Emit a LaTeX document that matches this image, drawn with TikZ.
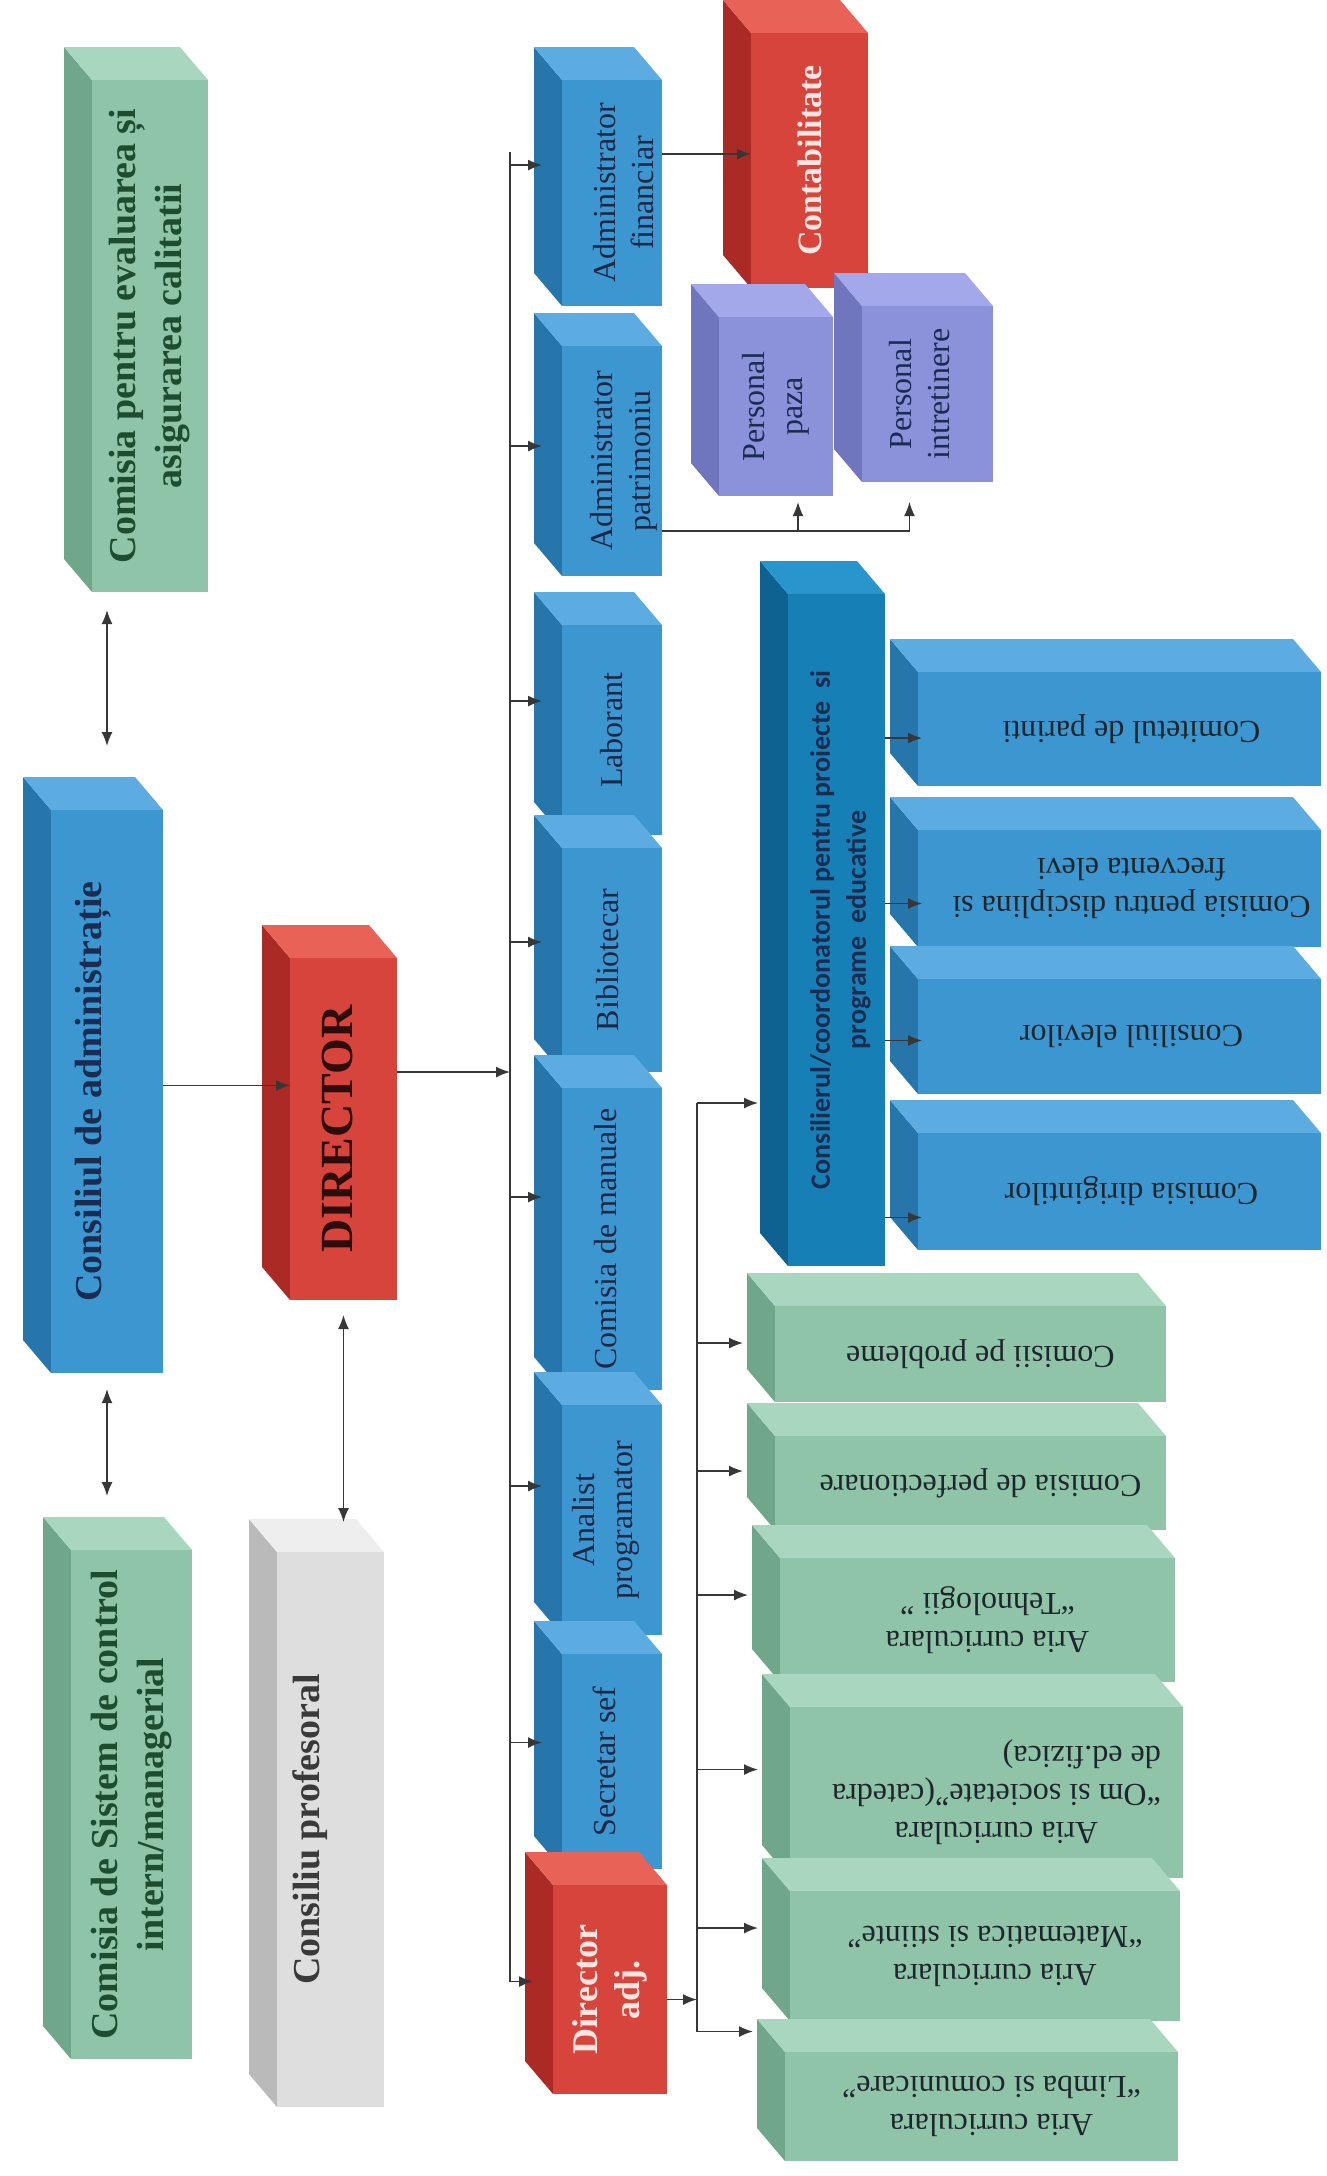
\documentclass[tikz,border=0pt]{standalone}
\usepackage{fontspec}
\setmainfont{Liberation Serif}
\newfontfamily\calib{Carlito}
\usetikzlibrary{arrows.meta,calc}
\definecolor{greenF}{RGB}{143,196,168}
\definecolor{greenT}{RGB}{168,214,190}
\definecolor{greenS}{RGB}{112,166,138}
\definecolor{blueF}{RGB}{60,150,208}
\definecolor{blueT}{RGB}{92,172,226}
\definecolor{blueS}{RGB}{38,118,172}
\definecolor{redF}{RGB}{215,68,60}
\definecolor{redT}{RGB}{232,98,88}
\definecolor{redS}{RGB}{172,42,38}
\definecolor{tealF}{RGB}{22,128,182}
\definecolor{tealT}{RGB}{40,150,204}
\definecolor{tealS}{RGB}{14,98,146}
\definecolor{purpF}{RGB}{140,146,218}
\definecolor{purpT}{RGB}{162,168,234}
\definecolor{purpS}{RGB}{112,118,190}
\definecolor{grayF}{RGB}{222,222,222}
\definecolor{grayT}{RGB}{238,238,238}
\definecolor{grayS}{RGB}{186,186,186}
\definecolor{lineGray}{RGB}{55,55,55}
\definecolor{dkGreen}{RGB}{30,76,46}
\definecolor{dkNavy}{RGB}{26,44,82}
\definecolor{dkRed}{RGB}{45,12,12}
\definecolor{dkGray}{RGB}{58,58,58}
\definecolor{colTxt}{RGB}{28,40,70}
\definecolor{pinkW}{RGB}{252,228,224}
\definecolor{bodyTxt}{RGB}{30,38,45}
% #1 name, #2 x1, #3 y1, #4 x2, #5 y2, #6 colour prefix, #7 text style, #8 text shift, #9 text
\newcommand\drawcube[9]{%
  \fill[#6S] (#2-28,#3-33) -- (#2,#3) -- (#2,#5) -- (#2-28,#5-33) -- cycle;
  \fill[#6T] (#2-28,#3-33) -- (#4-28,#3-33) -- (#4,#3) -- (#2,#3) -- cycle;
  \node[frontface,fill=#6F,minimum width={(#4-#2)*0.5pt},minimum height={(#5-#3)*0.5pt}] (#1) at ({(#2+#4)/2},{(#3+#5)/2}) {};
  \node[#7] (#1-t) at ([#8]#1.center) {#9};
}
\tikzset{
  frontface/.style={inner sep=0pt,outer sep=0pt,draw=none,rectangle},
  lineC/.style={draw=lineGray,line width=0.8pt},
  arr/.style={lineC,-{Latex[length=7pt,width=5.5pt]}},
  dbl/.style={lineC,{Latex[length=7pt,width=5.5pt]}-{Latex[length=7pt,width=5.5pt]}},
  bigtxt/.style={rotate=90,align=center,inner sep=0pt,font=\bfseries\fontsize{19}{23}\selectfont},
  coltxt/.style={rotate=90,align=center,inner sep=0pt,text=colTxt,font=\fontsize{16}{19}\selectfont},
  fliptxt/.style={rotate=180,align=center,inner sep=0pt,text=bodyTxt,font=\fontsize{16}{19}\selectfont},
}
\begin{document}
\begin{tikzpicture}[x=0.5pt,y=-0.5pt]
\useasboundingbox (0,0) rectangle (1327,2176);
\fill[white] (0,0) rectangle (1327,2176);
% left column
\drawcube{eval}{92}{80}{208}{592}{green}{bigtxt,text=dkGreen}{xshift=0pt}{Comisia pentru evaluarea și\\asigurarea calitatii}
\drawcube{admin}{51}{810}{163}{1373}{blue}{bigtxt,text=dkNavy}{xshift=-7pt}{Consiliul de administrație}
\drawcube{sistem}{71}{1550}{192}{2059}{green}{bigtxt,text=dkGreen}{xshift=0pt}{Comisia de Sistem de control\\intern/managerial}
\drawcube{dir}{290}{958}{397}{1300}{red}{rotate=90,inner sep=0pt,text=dkRed,font=\bfseries\fontsize{23}{26}\selectfont}{xshift=-3pt}{DIRECTOR}
\drawcube{prof}{277}{1552}{384}{2107}{gray}{bigtxt,text=dkGray}{xshift=-10pt}{Consiliu profesoral}
% blue column
\drawcube{adf}{562}{80}{662}{306}{blue}{coltxt}{xshift=6pt}{Administrator\\financiar}
\drawcube{adp}{562}{346}{662}{576}{blue}{coltxt}{xshift=6pt}{Administrator\\patrimoniu}
\drawcube{lab}{562}{625}{662}{835}{blue}{coltxt}{xshift=0pt}{Laborant}
\drawcube{bib}{562}{848}{662}{1072}{blue}{coltxt}{xshift=-2pt}{Bibliotecar}
\drawcube{man}{562}{1088}{662}{1390}{blue}{coltxt}{xshift=-3pt}{Comisia de manuale}
\drawcube{ana}{562}{1405}{662}{1635}{blue}{coltxt}{xshift=-3pt}{Analist\\programator}
\drawcube{sec}{562}{1654}{662}{1869}{blue}{coltxt}{xshift=-4pt}{Secretar sef}
\drawcube{dad}{553}{1885}{667}{2094}{red}{rotate=90,align=center,inner sep=0pt,text=pinkW,font=\bfseries\fontsize{18}{21}\selectfont}{xshift=0pt}{Director\\adj.}
% administrative staff
\drawcube{contab}{751}{33}{868}{288}{red}{rotate=90,inner sep=0pt,text=pinkW,font=\bfseries\fontsize{17}{20}\selectfont}{xshift=0pt}{Contabilitate}
\drawcube{paza}{719}{317}{833}{496}{purp}{coltxt,text=dkNavy}{xshift=0pt}{Personal\\paza}
\drawcube{intre}{862}{306}{993}{482}{purp}{coltxt,text=dkNavy}{xshift=-4pt}{Personal\\intretinere}
% consilier
\drawcube{consil}{788}{594}{885}{1266}{teal}{rotate=90,align=center,inner sep=0pt,text=dkNavy,font=\calib\bfseries\fontsize{14}{18}\selectfont}{xshift=2pt}{Consilierul/coordonatorul pentru proiecte~~si\\programe~~educative}
% right blue boxes
\drawcube{com}{918}{672}{1321}{786}{blue}{fliptxt}{xshift=6pt}{Comitetul de parinti}
\drawcube{dis}{918}{830}{1321}{947}{blue}{fliptxt}{xshift=6pt}{Comisia pentru disciplina si\\frecventa elevi}
\drawcube{ele}{918}{979}{1321}{1094}{blue}{fliptxt}{xshift=6pt}{Consiliul elevilor}
\drawcube{dirig}{918}{1133}{1321}{1250}{blue}{fliptxt}{xshift=6pt}{Comisia dirigintilor}
% green bottom boxes
\drawcube{prob}{775}{1306}{1166}{1402}{green}{fliptxt}{xshift=5pt}{Comisii pe probleme}
\drawcube{perf}{775}{1436}{1166}{1530}{green}{fliptxt}{xshift=5pt}{Comisia de perfectionare}
\drawcube{teh}{780}{1558}{1175}{1682}{green}{fliptxt}{xshift=5pt}{Aria curriculara\\“Tehnologii ”}
\drawcube{om}{790}{1707}{1183}{1878}{green}{fliptxt}{xshift=5pt}{\begin{tabular}{@{}l@{}}\multicolumn{1}{@{}c@{}}{Aria curriculara}\\“Om si societate”(catedra\\de ed.fizica)\end{tabular}}
\drawcube{mat}{790}{1891}{1180}{2021}{green}{fliptxt}{xshift=5pt}{Aria curriculara\\“Matematica si stiinte”}
\drawcube{lim}{785}{2052}{1178}{2161}{green}{fliptxt}{xshift=5pt}{Aria curriculara\\“Limba si comunicare”}
% ---------- connectors ----------
% double arrows on the left
\coordinate (e1) at ([yshift=-9pt]eval.south);
\coordinate (e2) at ([yshift=32pt]admin.north);
\draw[dbl] (e1 -| e2) -- (e2);
\coordinate (s1) at ([yshift=-8pt]admin.south);
\coordinate (s2) at ([yshift=27pt]sistem.north);
\draw[dbl] (s1) -- (s1 |- s2);
\coordinate (q1) at ([yshift=-7.5pt]dir.south);
\coordinate (q2) at ([yshift=15pt]prof.north);
\draw[dbl] (q1) -- (q1 |- q2);
% Consiliul -> DIRECTOR
\coordinate (a2d) at ([yshift=3pt]admin.east);
\draw[arr] (a2d) -- (a2d -| dir.west);
% main bus
\coordinate (busT) at (510,152);
\foreach \n/\s in {adf/14,adp/7.5,lab/14.5,bib/9,man/21,ana/17,sec/9.5,dad/4}{
  \coordinate (\n-in) at ([xshift=-10pt,yshift=\s pt]\n.west);
  \draw[arr] (busT |- \n-in) -- (\n-in);
}
\draw[lineC] (busT) -- (busT |- dad-in);
\coordinate (djoin) at ([yshift=28.5pt]dir.east);
\draw[arr] (djoin) -- (djoin -| busT);
% financiar -> contabilitate
\coordinate (f2c) at ([yshift=19.5pt]adf.east);
\draw[arr] (f2c) -- (f2c -| contab.west);
% patrimoniu -> personal
\coordinate (p2p) at ([yshift=-35pt]adp.east);
\coordinate (pz) at ([xshift=11pt,yshift=-3pt]paza.south);
\coordinate (it) at ([xshift=-9pt]intre.south);
\draw[lineC] (p2p) -- (p2p -| it);
\draw[arr] (p2p -| pz) -- (pz);
\draw[arr] (p2p -| it) -- (it |- pz);
% consilier -> right boxes
\foreach \n/\s in {com/-4.5,dis/-7.5,ele/-2,dirig/-13}{
  \coordinate (\n-in) at ([xshift=2pt,yshift=\s pt]\n.west);
  \draw[arr] (consil.east |- \n-in) -- (\n-in);
}
% director adj bus
\coordinate (gbT) at (697,1103);
\coordinate (consil-in) at ([xshift=-15pt]consil.west |- gbT);
\draw[arr] (gbT) -- (consil-in);
\foreach \n/\s in {prob/5.5,perf/6,teh/12.5,om/11.5,mat/14,lim/37.5}{
  \coordinate (\n-in) at ([xshift=-16pt,yshift=\s pt]\n.west);
  \draw[arr] (gbT |- \n-in) -- (\n-in);
}
\draw[lineC] (gbT) -- (gbT |- lim-in);
\coordinate (dj2) at ([yshift=-5pt]dad.east);
\draw[arr] (dj2) -- (dj2 -| gbT);
\end{tikzpicture}
\end{document}
